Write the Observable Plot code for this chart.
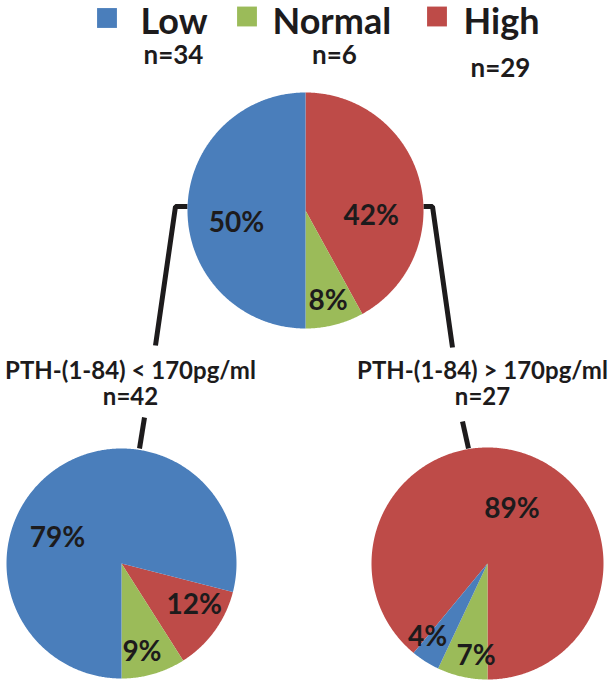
<!DOCTYPE html>
<html>
<head>
<meta charset="utf-8">
<script src="https://cdn.jsdelivr.net/npm/d3@7"></script>
<script src="https://cdn.jsdelivr.net/npm/@observablehq/plot@0.6"></script>
<style>
  html, body { margin: 0; padding: 0; background: #fff; }
  #chart svg { display: block; }
</style>
</head>
<body>
<div id="chart"></div>
<script>
// ---------- DATA ----------
const categories = ["Low", "Normal", "High"];
const legendN = ["n=34", "n=6", "n=29"];
const groupLabels = ["", "PTH-(1-84) < 170pg/ml", "PTH-(1-84) > 170pg/ml"];
const groupN = ["", "n=42", "n=27"];
const lowPct = [50, 79, 4];
const normalPct = [8, 9, 7];
const highPct = [42, 12, 89];

// ---------- LAYOUT (pixels, not data) ----------
const W = 613, H = 686;
const colors = ["#4a7ebb", "#9bbb59", "#be4b48"];
const pies = [
  {cx: 305, cy: 210, r: 118, normalAnchor: "end"},
  {cx: 121, cy: 563, r: 115, normalAnchor: "end"},
  {cx: 487, cy: 563, r: 116, normalAnchor: "start"}
];
// label polar positions [angle deg clockwise from 12 o'clock, distance px] for Low, Normal, High
const labelPolar = [
  [[260, 70], [166, 93], [95, 66]],
  [[292, 69], [167, 91], [120, 84]],
  [[219, 95], [187, 93], [24, 60]]
];
const legendLayout = {
  square: [[106.5, 17.5], [246.5, 16], [436.5, 16]],
  textX: [140, 272, 463], textY: 22,
  nPos: [[173, 55], [334, 55], [500, 68]]
};
const groupLayout = {x: [0, 130, 482], titleY: 371, nY: 397};

// ---------- BUILD ----------
const rad = d => d * Math.PI / 180;
const slices = [];
const pctLabels = [];
pies.forEach((p, i) => {
  const vals = {Low: lowPct[i], Normal: normalPct[i], High: highPct[i]};
  const order = ["High", "Normal", "Low"]; // clockwise
  let start = p.normalAnchor === "end"
    ? 180 - (vals.Normal + vals.High) * 3.6
    : 180 - vals.High * 3.6;
  order.forEach(cat => {
    const span = vals[cat] * 3.6;
    const a0 = start, a1 = start + span;
    const id = `p${i}-${cat}`;
    slices.push({id, cat, x: p.cx, y: p.cy});
    const n = Math.max(2, Math.ceil(span / 0.5));
    for (let k = 0; k <= n; k++) {
      const a = rad(a0 + (a1 - a0) * k / n);
      slices.push({id, cat, x: p.cx + p.r * Math.sin(a), y: p.cy - p.r * Math.cos(a)});
    }
    start = a1;
    const ci = categories.indexOf(cat);
    const [ang, dist] = labelPolar[i][ci];
    pctLabels.push({
      text: vals[cat] + "%",
      x: p.cx + dist * Math.sin(rad(ang)),
      y: p.cy - dist * Math.cos(rad(ang))
    });
  });
});

// connectors derived from pie geometry
const topPie = pies[0];
const joinY = topPie.cy - 4;
const connectors = [
  {id: "L1", x: topPie.cx - topPie.r, y: joinY},
  {id: "L1", x: topPie.cx - topPie.r - 12, y: joinY},
  {id: "L1", x: 155, y: groupLayout.titleY - 26},
  {id: "L2", x: pies[1].cx + 23, y: groupLayout.nY + 20},
  {id: "L2", x: pies[1].cx + 18, y: pies[1].cy - pies[1].r},
  {id: "R1", x: topPie.cx + topPie.r, y: joinY},
  {id: "R1", x: topPie.cx + topPie.r + 9, y: joinY},
  {id: "R1", x: 452, y: groupLayout.titleY - 24},
  {id: "R2", x: pies[2].cx - 25, y: groupLayout.nY + 24},
  {id: "R2", x: pies[2].cx - 19, y: pies[2].cy - pies[2].r + 1}
];

const legendSquares = categories.map((c, i) => ({cat: c, x: legendLayout.square[i][0], y: legendLayout.square[i][1]}));
const legendText = categories.map((c, i) => ({text: c, x: legendLayout.textX[i], y: legendLayout.textY}));
const legendNText = legendN.map((t, i) => ({text: t, x: legendLayout.nPos[i][0], y: legendLayout.nPos[i][1]}));
const groupText = [1, 2].flatMap(i => [
  {text: groupLabels[i], x: groupLayout.x[i], y: groupLayout.titleY},
  {text: groupN[i], x: groupLayout.x[i], y: groupLayout.nY}
]);

const FONT = "Lato, 'Open Sans', sans-serif";
const INK = "#1d1b1c";

const chart = Plot.plot({
  width: W, height: H,
  margin: 0,
  style: {fontFamily: FONT, background: "#fff"},
  x: {domain: [0, W], range: [0, W], axis: null},
  y: {domain: [0, H], range: [0, H], axis: null},
  color: {domain: categories, range: colors},
  marks: [
    Plot.line(connectors, {x: "x", y: "y", z: "id", stroke: INK, strokeWidth: 5, strokeLinejoin: "miter", strokeLinecap: "butt"}),
    Plot.line(slices, {x: "x", y: "y", z: "id", fill: "cat", stroke: null, curve: "linear-closed"}),
    Plot.text(pctLabels, {x: "x", y: "y", text: "text", fontSize: 28, fontWeight: "bold", fill: INK}),
    Plot.dot(legendSquares, {x: "x", y: "y", fill: "cat", symbol: "square", r: 11.2}),
    Plot.text(legendText, {x: "x", y: "y", text: "text", fontSize: 36, fontWeight: "bold", fill: INK, textAnchor: "start"}),
    Plot.text(legendNText, {x: "x", y: "y", text: "text", fontSize: 26, fontWeight: "bold", fill: INK}),
    Plot.text(groupText, {x: "x", y: "y", text: "text", fontSize: 24, fontWeight: "bold", fill: INK})
  ]
});
document.getElementById("chart").appendChild(chart);
</script>
</body>
</html>
